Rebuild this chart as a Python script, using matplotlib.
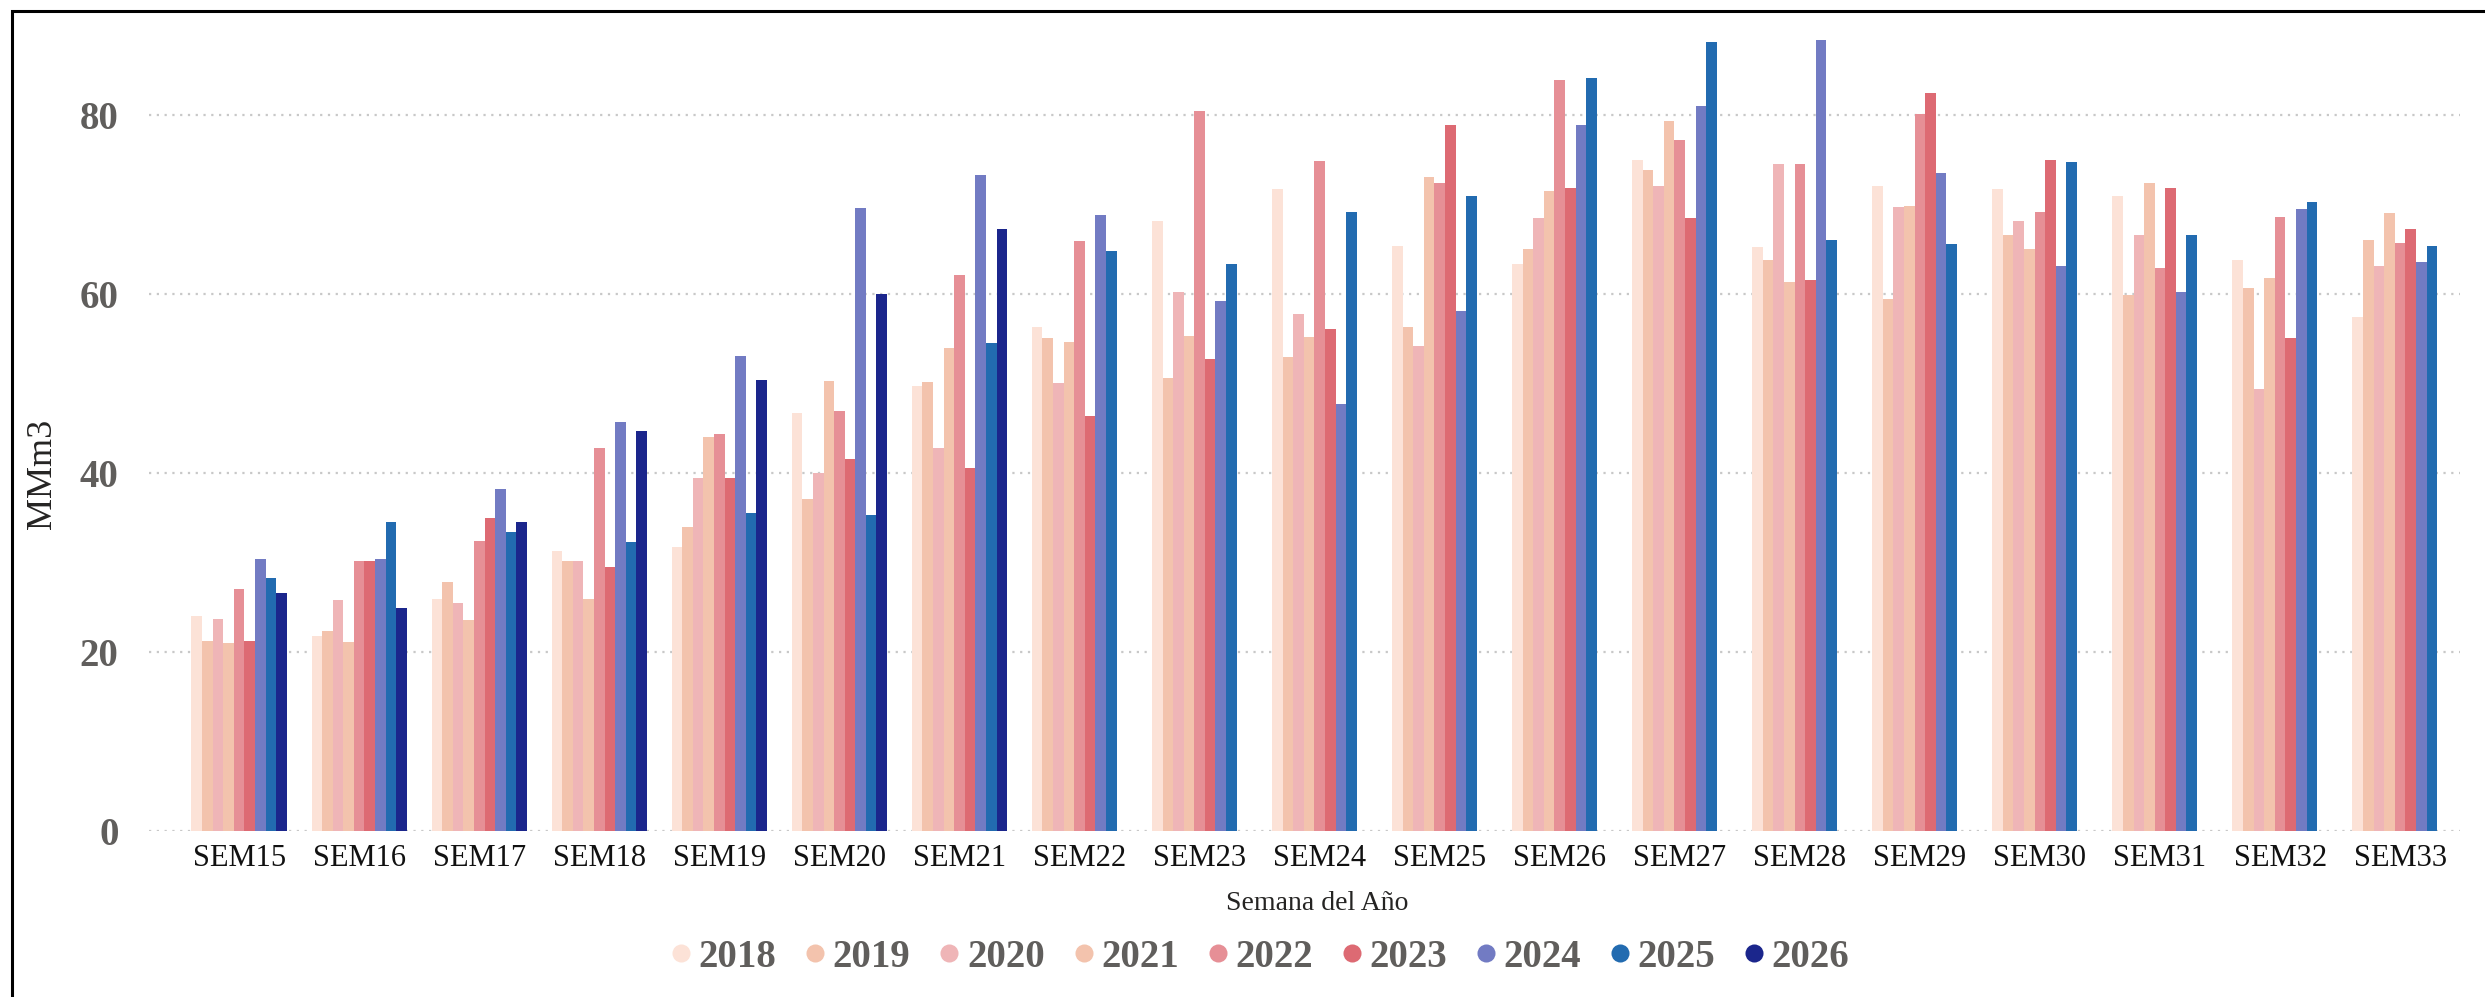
"""Weekly volume by year (MMm3), clustered columns SEM15-SEM33, one bar per year.

Writes out.png (2485x997).
"""

import matplotlib

matplotlib.use("Agg")
import matplotlib.pyplot as plt
import numpy as np
from matplotlib.lines import Line2D
from matplotlib.patches import Rectangle

nan = np.nan

WEEKS = [f"SEM{n}" for n in range(15, 34)]
YEARS = ["2018", "2019", "2020", "2021", "2022", "2023", "2024", "2025", "2026"]

V2018 = [24.0, 21.8, 25.9, 31.3, 31.7, 46.7, 49.7, 56.3, 68.2, 71.8, 65.4, 63.4, 75.0, 65.3, 72.1, 71.8, 71.0, 63.8, 57.4]
V2019 = [21.2, 22.35, 27.8, 30.2, 33.9, 37.1, 50.2, 55.1, 50.6, 53.0, 56.3, 65.1, 73.9, 63.8, 59.5, 66.6, 59.9, 60.7, 66.1]
V2020 = [23.7, 25.8, 25.4, 30.2, 39.4, 40.0, 42.75, 50.1, 60.2, 57.8, 54.2, 68.5, 72.1, 74.6, 69.7, 68.2, 66.6, 49.4, 63.1]
V2021 = [21.0, 21.1, 23.5, 25.9, 44.0, 50.3, 54.0, 54.6, 55.3, 55.2, 73.1, 71.5, 79.4, 61.3, 69.9, 65.1, 72.4, 61.8, 69.1]
V2022 = [27.05, 30.1, 32.35, 42.75, 44.4, 46.9, 62.1, 65.9, 80.5, 74.9, 72.4, 84.0, 77.2, 74.5, 80.2, 69.2, 62.9, 68.6, 65.7]
V2023 = [21.2, 30.1, 35.0, 29.5, 39.4, 41.6, 40.5, 46.4, 52.7, 56.1, 78.9, 71.9, 68.5, 61.6, 82.5, 75.0, 71.9, 55.1, 67.3]
V2024 = [30.4, 30.4, 38.2, 45.65, 53.1, 69.6, 73.3, 68.8, 59.2, 47.7, 58.1, 78.9, 81.0, 88.4, 73.5, 63.2, 60.2, 69.5, 63.6]
V2025 = [28.2, 34.55, 33.4, 32.3, 35.5, 35.3, 54.5, 64.8, 63.4, 69.2, 71.0, 84.2, 88.2, 66.1, 65.6, 74.8, 66.6, 70.3, 65.4]
V2026 = [26.6, 24.85, 34.55, 44.65, 50.4, 60.0, 67.3] + [nan] * 12

COLORS = ["#FCE2D7", "#F3C3AD", "#EFB5B7", "#F3C3AD", "#E68F96",
          "#DD6A73", "#727BC3", "#226BB0", "#1B268C"]

Y_TICKS = [0, 20, 40, 60, 80]
SERIF = ["Liberation Serif", "DejaVu Serif"]
GROUP_W = 0.794   # fraction of the category slot taken by the 9 bars


def main() -> None:
    series = [V2018, V2019, V2020, V2021, V2022, V2023, V2024, V2025, V2026]
    fig = plt.figure(figsize=(24.85, 9.97), dpi=100)
    ax = fig.add_axes([0.06, 0.167, 0.93, 0.807])

    x = np.arange(len(WEEKS))
    bw = GROUP_W / len(YEARS)
    for i, (vals, col) in enumerate(zip(series, COLORS)):
        off = (i - (len(YEARS) - 1) / 2) * bw
        ax.bar(x + off, vals, width=bw, color=col, linewidth=0, zorder=3)

    ax.set_xlim(-0.75, 18.5)
    ax.set_ylim(0, 90)
    ax.set_yticks(Y_TICKS)
    ax.set_yticklabels([str(t) for t in Y_TICKS], family=SERIF, fontsize=28,
                       fontweight="bold", color="#605E5C")
    ax.set_xticks(x)
    ax.set_xticklabels(WEEKS, family=SERIF, fontsize=22, color="#111111")
    ax.tick_params(length=0)
    ax.tick_params(axis="y", pad=22)
    ax.tick_params(axis="x", pad=10)
    for s in ax.spines.values():
        s.set_visible(False)
    ax.yaxis.grid(True, color="#C8C8C8", linestyle=(0, (1, 2.5)), linewidth=1.6, zorder=0)
    ax.set_axisbelow(True)

    fig.text(0.017, 0.525, "MMm3", rotation=90, ha="center", va="center",
             family=SERIF, fontsize=26, color="#252423")
    fig.text(0.53, 0.094, "Semana del Año", ha="center", va="center",
             family=SERIF, fontsize=20, color="#252423")

    handles = [Line2D([], [], marker="o", linestyle="", markersize=13,
                      markerfacecolor=c, markeredgewidth=0) for c in COLORS]
    fig.legend(handles, YEARS, loc="center", bbox_to_anchor=(0.506, 0.04), ncol=9,
               frameon=False, handletextpad=0.05, columnspacing=0.6, handlelength=0.8,
               prop={"family": SERIF, "size": 28, "weight": "bold"}, labelcolor="#605E5C")

    fig.add_artist(Rectangle((0.005, -0.05), 1.2, 0.989 + 0.05, transform=fig.transFigure,
                             fill=False, edgecolor="black", linewidth=2.2))
    fig.savefig("out.png", dpi=100)


if __name__ == "__main__":
    main()
